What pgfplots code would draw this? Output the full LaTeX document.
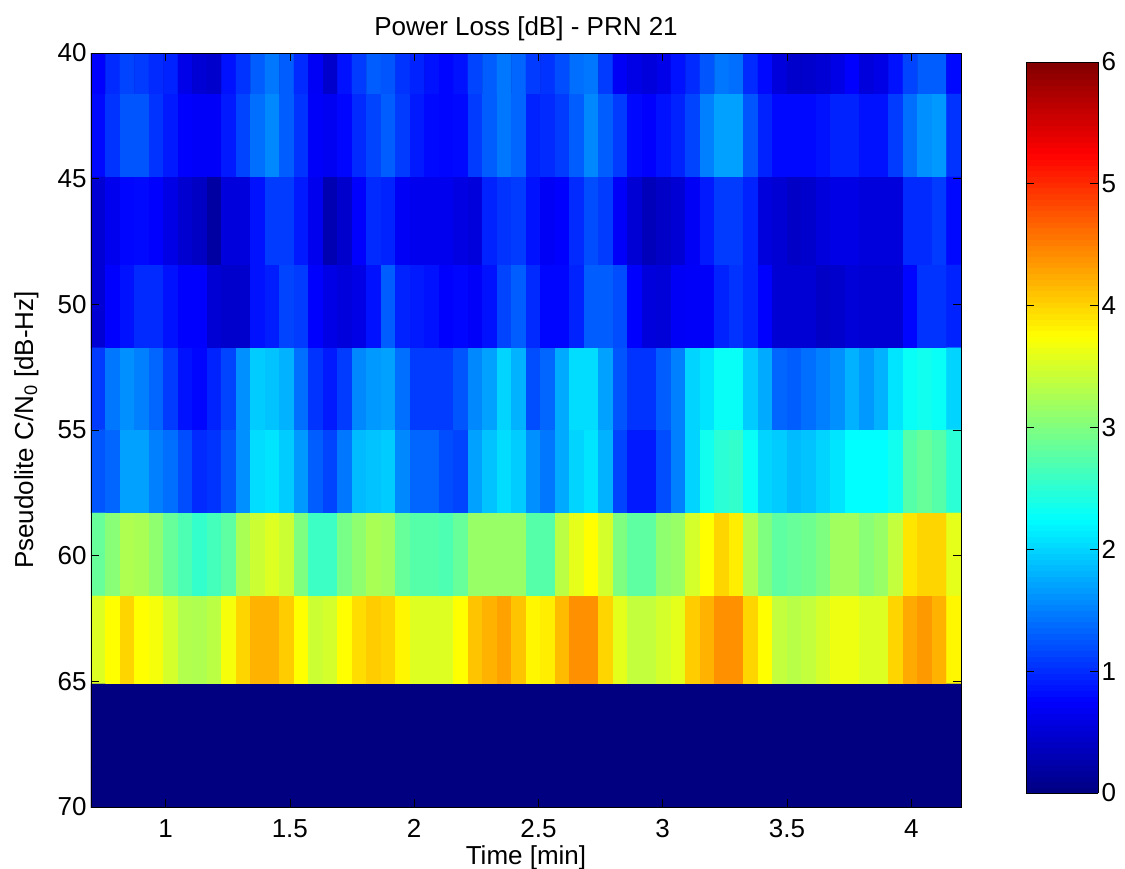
\documentclass[border=0pt]{standalone}
\usepackage{pgfplots}
\pgfplotsset{compat=1.18}
\usepackage{fontspec}
\setmainfont{Liberation Sans}
\definecolor{jetzero}{rgb}{0,0,0.502}
\begin{document}
\begin{tikzpicture}[x=1pt,y=1pt]
\path[use as bounding box] (-91,-62) rectangle (1034,807);
\begin{axis}[
  at={(0,0)}, anchor=south west,
  scale only axis, width=870pt, height=754pt,
  xmin=0.7, xmax=4.2, ymin=40, ymax=70, y dir=reverse,
  xtick={1,1.5,2,2.5,3,3.5,4}, ytick={40,45,50,55,60,65,70},
  tick align=inside, major tick length=8pt, axis on top,
  axis background/.style={fill=jetzero},
  tick style={black, line width=0.7pt},
  axis line style={black, line width=0.9pt},
  /pgf/number format/assume math mode=true,
  ticklabel style={font=\fontsize{26}{30}\selectfont},
  xticklabel style={yshift=-9pt},
  yticklabel style={xshift=-1pt},
  title={Power Loss [dB] - PRN 21},
  title style={font=\fontsize{26}{30}\selectfont, at={(0.5,1)}, anchor=south, yshift=3pt},
  xlabel={Time [min]}, ylabel={Pseudolite C/N\textsubscript{0} [dB-Hz]},
  label style={font=\fontsize{26}{30}\selectfont},
  xlabel style={at={(0.5,0)}, anchor=north, yshift=-35pt},
  ylabel style={at={(0,0.5)}, anchor=south, rotate=0, yshift=49pt},
  colormap/jet, point meta min=0, point meta max=6,
  colorbar sampled,
  colorbar style={
    samples=129,
    at={(1.07471,0.01857)}, anchor=south west,
    scale only axis, width=72pt, height=731pt,
    ymin=0, ymax=6, ytick={0,1,2,3,4,5,6},
    yticklabel pos=right,
    tick align=inside, major tick length=8pt,
    tick style={black, line width=0.7pt},
    axis line style={black, line width=0.9pt},
    /pgf/number format/assume math mode=true,
    yticklabel style={font=\fontsize{26}{30}\selectfont, xshift=0pt},
  },
]
\addplot[matrix plot*, draw=mapped color, line width=0.2pt, mesh/rows=10, mesh/cols=60, point meta=\thisrow{v}]
 table[row sep=\\, x expr={0.7+(mod(\coordindex,60)+0.5)*3.5/60}, y expr={\coordindex<59.5 ? 40 : (\coordindex<119.5 ? 43.26 : (\coordindex<179.5 ? 46.6 : (\coordindex<239.5 ? 50.26 : (\coordindex<299.5 ? 53.2 : (\coordindex<359.5 ? 56.78 : (\coordindex<419.5 ? 59.82 : (\coordindex<479.5 ? 63.38 : (\coordindex<539.5 ? 66.82 : 70))))))))}] {
v\\
0.75\\1.0\\1.15\\1.1\\1.0\\0.95\\0.62\\0.5\\0.45\\0.85\\1.05\\1.3\\1.45\\1.3\\1.0\\0.7\\0.45\\0.85\\1.1\\1.3\\
1.25\\1.05\\0.95\\0.85\\0.78\\0.85\\1.15\\1.3\\1.45\\1.35\\1.1\\1.05\\1.2\\1.4\\1.45\\1.1\\0.7\\0.6\\0.55\\0.62\\
0.85\\1.0\\1.25\\1.45\\1.4\\1.0\\0.8\\0.55\\0.45\\0.45\\0.5\\0.6\\0.75\\0.55\\0.6\\0.85\\1.15\\1.3\\1.3\\0.8\\
0.8\\1.05\\1.25\\1.25\\1.05\\0.9\\0.75\\0.72\\0.72\\0.9\\1.15\\1.4\\1.55\\1.3\\1.05\\0.72\\0.68\\0.78\\1.0\\1.15\\
1.3\\1.1\\0.9\\0.8\\0.78\\0.8\\1.1\\1.3\\1.45\\1.35\\0.95\\1.0\\1.1\\1.3\\1.55\\1.3\\1.1\\0.8\\0.75\\0.85\\
0.95\\1.15\\1.5\\1.7\\1.7\\1.25\\0.95\\0.8\\0.8\\0.8\\0.85\\0.95\\0.95\\0.85\\0.85\\1.1\\1.4\\1.6\\1.65\\1.05\\
0.5\\0.65\\0.78\\0.8\\0.75\\0.6\\0.48\\0.4\\0.2\\0.55\\0.55\\0.85\\1.1\\1.1\\0.9\\0.65\\0.3\\0.45\\0.75\\1.0\\
0.95\\0.7\\0.65\\0.65\\0.65\\0.58\\0.55\\0.95\\1.05\\1.1\\0.85\\0.7\\0.75\\1.0\\1.2\\1.1\\0.72\\0.5\\0.35\\0.42\\
0.5\\0.7\\0.9\\1.1\\1.1\\0.95\\0.55\\0.5\\0.42\\0.45\\0.55\\0.6\\0.6\\0.55\\0.55\\0.55\\1.0\\1.0\\1.1\\0.8\\
0.5\\0.75\\0.85\\1.0\\1.0\\0.85\\0.75\\0.75\\0.5\\0.45\\0.45\\0.85\\0.92\\1.15\\1.1\\0.75\\0.6\\0.55\\0.6\\0.85\\
1.3\\0.95\\0.9\\0.85\\0.75\\0.78\\0.72\\0.85\\1.15\\1.3\\1.0\\0.78\\0.78\\0.95\\1.3\\1.3\\1.2\\0.75\\0.55\\0.52\\
0.7\\0.72\\0.72\\0.95\\1.05\\0.95\\0.75\\0.5\\0.5\\0.5\\0.42\\0.45\\0.52\\0.5\\0.5\\0.5\\0.78\\1.05\\1.05\\0.95\\
1.1\\1.45\\1.6\\1.5\\1.35\\1.1\\0.85\\0.78\\0.95\\1.15\\1.6\\1.95\\1.9\\1.8\\1.4\\1.05\\0.9\\1.1\\1.55\\1.65\\
1.7\\1.4\\1.1\\1.1\\1.1\\1.25\\1.55\\1.7\\2.0\\1.8\\1.2\\1.35\\1.75\\2.05\\2.05\\1.7\\1.25\\1.05\\1.05\\1.3\\
1.5\\2.0\\2.1\\2.3\\2.3\\1.95\\1.75\\1.35\\1.3\\1.4\\1.5\\1.6\\1.8\\1.65\\1.8\\2.1\\2.3\\2.35\\2.3\\2.0\\
1.25\\1.35\\1.7\\1.7\\1.5\\1.4\\1.2\\1.0\\1.05\\1.25\\1.6\\2.05\\2.1\\1.95\\1.65\\1.3\\1.15\\1.45\\1.85\\1.9\\
1.95\\1.55\\1.35\\1.35\\1.2\\1.15\\1.7\\1.9\\2.05\\1.95\\1.6\\1.45\\1.75\\2.0\\2.1\\1.8\\1.15\\0.9\\0.9\\1.2\\
1.5\\2.0\\2.35\\2.5\\2.55\\2.3\\2.0\\1.95\\1.85\\1.9\\2.0\\2.1\\2.25\\2.25\\2.25\\2.35\\2.75\\2.85\\2.75\\2.5\\
2.85\\3.05\\3.28\\3.25\\3.1\\2.85\\2.7\\2.55\\2.65\\2.8\\3.25\\3.45\\3.55\\3.45\\3.0\\2.6\\2.6\\2.95\\3.1\\3.25\\
3.2\\2.85\\2.75\\2.75\\2.7\\2.85\\3.15\\3.15\\3.15\\3.15\\2.75\\2.75\\3.35\\3.6\\3.75\\3.5\\3.0\\2.8\\2.8\\3.1\\
3.15\\3.5\\3.75\\4.0\\3.85\\3.3\\3.0\\2.8\\2.85\\2.9\\3.0\\3.2\\3.2\\3.05\\3.15\\3.4\\3.9\\4.0\\4.0\\3.6\\
3.55\\3.75\\4.0\\3.75\\3.7\\3.5\\3.3\\3.28\\3.35\\3.7\\4.0\\4.2\\4.2\\4.05\\3.75\\3.45\\3.5\\3.75\\3.95\\4.05\\
4.0\\3.8\\3.55\\3.55\\3.55\\3.75\\4.1\\4.2\\4.3\\4.1\\3.8\\3.85\\4.15\\4.4\\4.4\\4.0\\3.6\\3.4\\3.4\\3.5\\
3.6\\4.05\\4.2\\4.4\\4.4\\4.0\\3.75\\3.4\\3.33\\3.4\\3.5\\3.65\\3.65\\3.55\\3.55\\4.0\\4.25\\4.35\\4.2\\3.8\\
0\\0\\0\\0\\0\\0\\0\\0\\0\\0\\0\\0\\0\\0\\0\\0\\0\\0\\0\\0\\
0\\0\\0\\0\\0\\0\\0\\0\\0\\0\\0\\0\\0\\0\\0\\0\\0\\0\\0\\0\\
0\\0\\0\\0\\0\\0\\0\\0\\0\\0\\0\\0\\0\\0\\0\\0\\0\\0\\0\\0\\
0\\0\\0\\0\\0\\0\\0\\0\\0\\0\\0\\0\\0\\0\\0\\0\\0\\0\\0\\0\\
0\\0\\0\\0\\0\\0\\0\\0\\0\\0\\0\\0\\0\\0\\0\\0\\0\\0\\0\\0\\
0\\0\\0\\0\\0\\0\\0\\0\\0\\0\\0\\0\\0\\0\\0\\0\\0\\0\\0\\0\\
};
\end{axis}
\end{tikzpicture}
\end{document}
